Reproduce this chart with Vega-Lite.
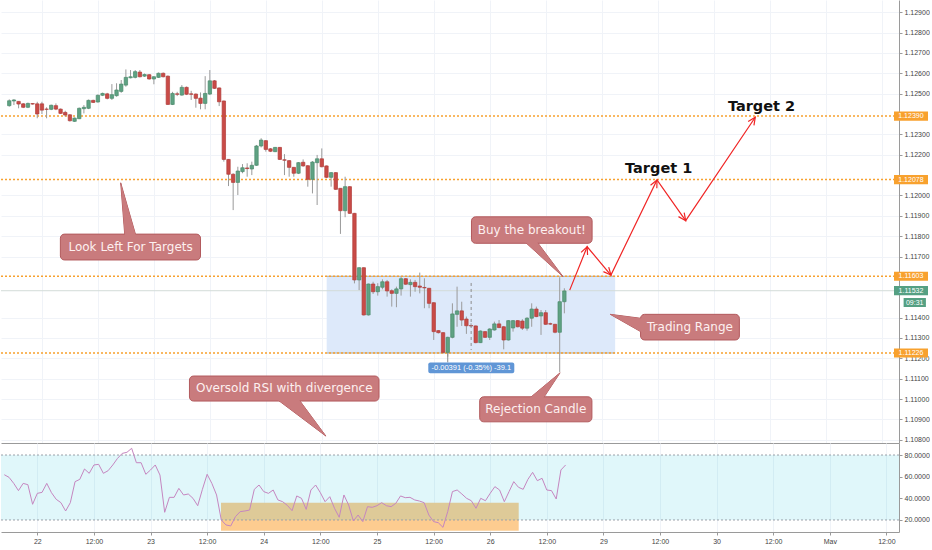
{
  "$schema": "https://vega.github.io/schema/vega-lite/v6.json",
  "padding": 0,
  "background": "#ffffff",
  "spacing": 0,
  "bounds": "flush",
  "config": {
    "view": {"stroke": null},
    "axis": {
      "labelFont": "Liberation Sans",
      "labelFontSize": 7,
      "labelColor": "#444444",
      "gridColor": "#f0f3f8",
      "domainColor": "#9a9a9a",
      "tickColor": "#9a9a9a",
      "tickSize": 3,
      "labelPadding": 2
    }
  },
  "datasets": {
    "candles": [
      {"t": -7, "o": 1.12441, "h": 1.12472, "l": 1.12436, "c": 1.12465, "rsi": 61.8},
      {"t": -6, "o": 1.12464, "h": 1.12473, "l": 1.12444, "c": 1.12469, "rsi": 59.4},
      {"t": -5, "o": 1.12462, "h": 1.12463, "l": 1.12428, "c": 1.12449, "rsi": 53.8},
      {"t": -4, "o": 1.1245, "h": 1.12454, "l": 1.12429, "c": 1.12433, "rsi": 47.1},
      {"t": -3, "o": 1.12433, "h": 1.12456, "l": 1.12429, "c": 1.12452, "rsi": 53.8},
      {"t": -2, "o": 1.12451, "h": 1.12454, "l": 1.12446, "c": 1.12449, "rsi": 52.6},
      {"t": -1, "o": 1.1245, "h": 1.1246, "l": 1.12379, "c": 1.124, "rsi": 34.5},
      {"t": 0, "o": 1.1245, "h": 1.1246, "l": 1.124, "c": 1.12419, "rsi": 44.6},
      {"t": 1, "o": 1.12424, "h": 1.12433, "l": 1.12379, "c": 1.12423, "rsi": 45.5},
      {"t": 2, "o": 1.12423, "h": 1.12446, "l": 1.12419, "c": 1.12443, "rsi": 53.8},
      {"t": 3, "o": 1.12441, "h": 1.12452, "l": 1.12419, "c": 1.12424, "rsi": 45.2},
      {"t": 4, "o": 1.12424, "h": 1.12427, "l": 1.124, "c": 1.12403, "rsi": 39.1},
      {"t": 5, "o": 1.12408, "h": 1.12416, "l": 1.12387, "c": 1.12395, "rsi": 36},
      {"t": 6, "o": 1.12396, "h": 1.124, "l": 1.12363, "c": 1.12367, "rsi": 28.3},
      {"t": 7, "o": 1.12364, "h": 1.12383, "l": 1.12361, "c": 1.1238, "rsi": 36},
      {"t": 8, "o": 1.12377, "h": 1.12432, "l": 1.12375, "c": 1.12428, "rsi": 55.4},
      {"t": 9, "o": 1.12426, "h": 1.12444, "l": 1.12403, "c": 1.12433, "rsi": 57.5},
      {"t": 10, "o": 1.12428, "h": 1.12471, "l": 1.12424, "c": 1.12467, "rsi": 67.1},
      {"t": 11, "o": 1.12467, "h": 1.1247, "l": 1.12454, "c": 1.12457, "rsi": 63.1},
      {"t": 12, "o": 1.12459, "h": 1.12496, "l": 1.12456, "c": 1.12492, "rsi": 70.8},
      {"t": 13, "o": 1.12492, "h": 1.12505, "l": 1.12488, "c": 1.12501, "rsi": 71.4},
      {"t": 14, "o": 1.12499, "h": 1.12504, "l": 1.12472, "c": 1.12477, "rsi": 63.1},
      {"t": 15, "o": 1.12477, "h": 1.12547, "l": 1.12469, "c": 1.12495, "rsi": 65.5},
      {"t": 16, "o": 1.1249, "h": 1.12551, "l": 1.12485, "c": 1.12518, "rsi": 70.8},
      {"t": 17, "o": 1.12511, "h": 1.12567, "l": 1.12504, "c": 1.12547, "rsi": 76.9},
      {"t": 18, "o": 1.12542, "h": 1.12619, "l": 1.12534, "c": 1.1258, "rsi": 81.5},
      {"t": 19, "o": 1.12578, "h": 1.12616, "l": 1.12575, "c": 1.12583, "rsi": 82.5},
      {"t": 20, "o": 1.1258, "h": 1.12616, "l": 1.12575, "c": 1.12608, "rsi": 86.2},
      {"t": 21, "o": 1.12606, "h": 1.12616, "l": 1.1258, "c": 1.12583, "rsi": 72.9},
      {"t": 22, "o": 1.12586, "h": 1.12599, "l": 1.12582, "c": 1.12594, "rsi": 72.9},
      {"t": 23, "o": 1.12593, "h": 1.12596, "l": 1.12569, "c": 1.12572, "rsi": 62.2},
      {"t": 24, "o": 1.12572, "h": 1.12586, "l": 1.12546, "c": 1.12583, "rsi": 66.2},
      {"t": 25, "o": 1.1258, "h": 1.12604, "l": 1.12577, "c": 1.126, "rsi": 70.8},
      {"t": 26, "o": 1.126, "h": 1.12604, "l": 1.1258, "c": 1.12583, "rsi": 61.5},
      {"t": 27, "o": 1.12586, "h": 1.12589, "l": 1.12445, "c": 1.12447, "rsi": 27.1},
      {"t": 28, "o": 1.12447, "h": 1.12509, "l": 1.12444, "c": 1.12501, "rsi": 40.9},
      {"t": 29, "o": 1.12499, "h": 1.12509, "l": 1.12488, "c": 1.12497, "rsi": 40.9},
      {"t": 30, "o": 1.12493, "h": 1.12542, "l": 1.1249, "c": 1.12531, "rsi": 49.2},
      {"t": 31, "o": 1.12531, "h": 1.12535, "l": 1.12493, "c": 1.12497, "rsi": 43.1},
      {"t": 32, "o": 1.12499, "h": 1.12514, "l": 1.12469, "c": 1.12497, "rsi": 44},
      {"t": 33, "o": 1.12498, "h": 1.12501, "l": 1.12431, "c": 1.12477, "rsi": 40},
      {"t": 34, "o": 1.12478, "h": 1.12506, "l": 1.12423, "c": 1.12452, "rsi": 33.2},
      {"t": 35, "o": 1.12452, "h": 1.12586, "l": 1.12423, "c": 1.12501, "rsi": 48.3},
      {"t": 36, "o": 1.12498, "h": 1.12616, "l": 1.12493, "c": 1.12563, "rsi": 62.2},
      {"t": 37, "o": 1.12563, "h": 1.12567, "l": 1.12523, "c": 1.12526, "rsi": 53.8},
      {"t": 38, "o": 1.12528, "h": 1.1253, "l": 1.12439, "c": 1.1246, "rsi": 43.1},
      {"t": 39, "o": 1.12464, "h": 1.12466, "l": 1.12166, "c": 1.12177, "rsi": 20},
      {"t": 40, "o": 1.12177, "h": 1.12179, "l": 1.12046, "c": 1.12104, "rsi": 15.4},
      {"t": 41, "o": 1.12104, "h": 1.12109, "l": 1.11928, "c": 1.12064, "rsi": 14.5},
      {"t": 42, "o": 1.12064, "h": 1.12141, "l": 1.12002, "c": 1.1212, "rsi": 23.1},
      {"t": 43, "o": 1.12117, "h": 1.12154, "l": 1.12109, "c": 1.12136, "rsi": 27.7},
      {"t": 44, "o": 1.12135, "h": 1.12158, "l": 1.12092, "c": 1.12132, "rsi": 28.3},
      {"t": 45, "o": 1.1213, "h": 1.12166, "l": 1.121, "c": 1.12148, "rsi": 29.2},
      {"t": 46, "o": 1.12148, "h": 1.12248, "l": 1.12145, "c": 1.12243, "rsi": 48.3},
      {"t": 47, "o": 1.12243, "h": 1.12281, "l": 1.12236, "c": 1.12272, "rsi": 52.3},
      {"t": 48, "o": 1.12269, "h": 1.12272, "l": 1.12215, "c": 1.12226, "rsi": 46.2},
      {"t": 49, "o": 1.12229, "h": 1.12233, "l": 1.12213, "c": 1.12217, "rsi": 44.6},
      {"t": 50, "o": 1.12215, "h": 1.12238, "l": 1.12213, "c": 1.12236, "rsi": 47.7},
      {"t": 51, "o": 1.12236, "h": 1.12238, "l": 1.12174, "c": 1.12177, "rsi": 38.5},
      {"t": 52, "o": 1.12175, "h": 1.12203, "l": 1.121, "c": 1.12173, "rsi": 36.9},
      {"t": 53, "o": 1.12171, "h": 1.12174, "l": 1.12092, "c": 1.12138, "rsi": 33.5},
      {"t": 54, "o": 1.12138, "h": 1.1214, "l": 1.12092, "c": 1.12109, "rsi": 28.6},
      {"t": 55, "o": 1.12109, "h": 1.12164, "l": 1.12105, "c": 1.12161, "rsi": 42.2},
      {"t": 56, "o": 1.12163, "h": 1.12177, "l": 1.12141, "c": 1.12145, "rsi": 40},
      {"t": 57, "o": 1.12146, "h": 1.12149, "l": 1.12043, "c": 1.12079, "rsi": 29.8},
      {"t": 58, "o": 1.12079, "h": 1.12169, "l": 1.1201, "c": 1.12164, "rsi": 47.7},
      {"t": 59, "o": 1.12161, "h": 1.12199, "l": 1.11953, "c": 1.1218, "rsi": 52.3},
      {"t": 60, "o": 1.1218, "h": 1.12231, "l": 1.12138, "c": 1.12141, "rsi": 45.2},
      {"t": 61, "o": 1.12145, "h": 1.12147, "l": 1.12085, "c": 1.12089, "rsi": 36.9},
      {"t": 62, "o": 1.12089, "h": 1.12115, "l": 1.12043, "c": 1.12112, "rsi": 41.5},
      {"t": 63, "o": 1.12112, "h": 1.12115, "l": 1.12027, "c": 1.1203, "rsi": 30.8},
      {"t": 64, "o": 1.12035, "h": 1.12036, "l": 1.11811, "c": 1.11925, "rsi": 22.5},
      {"t": 65, "o": 1.11925, "h": 1.12092, "l": 1.11893, "c": 1.12043, "rsi": 43.1},
      {"t": 66, "o": 1.12043, "h": 1.12046, "l": 1.11909, "c": 1.11912, "rsi": 33.8},
      {"t": 67, "o": 1.11912, "h": 1.11914, "l": 1.11568, "c": 1.11585, "rsi": 19.1},
      {"t": 68, "o": 1.11585, "h": 1.11647, "l": 1.11535, "c": 1.11645, "rsi": 24.6},
      {"t": 69, "o": 1.11645, "h": 1.11647, "l": 1.1141, "c": 1.11413, "rsi": 18.5},
      {"t": 70, "o": 1.11413, "h": 1.11567, "l": 1.1141, "c": 1.11565, "rsi": 32.3},
      {"t": 71, "o": 1.11565, "h": 1.11576, "l": 1.11516, "c": 1.11527, "rsi": 31.7},
      {"t": 72, "o": 1.11527, "h": 1.11569, "l": 1.11508, "c": 1.11552, "rsi": 33.2},
      {"t": 73, "o": 1.11549, "h": 1.11588, "l": 1.11539, "c": 1.11576, "rsi": 36},
      {"t": 74, "o": 1.11576, "h": 1.11585, "l": 1.11503, "c": 1.11531, "rsi": 33.2},
      {"t": 75, "o": 1.11532, "h": 1.11539, "l": 1.11454, "c": 1.11519, "rsi": 32.3},
      {"t": 76, "o": 1.11519, "h": 1.11552, "l": 1.11451, "c": 1.11541, "rsi": 35.4},
      {"t": 77, "o": 1.11541, "h": 1.11601, "l": 1.11508, "c": 1.11591, "rsi": 42.2},
      {"t": 78, "o": 1.11591, "h": 1.11594, "l": 1.1156, "c": 1.11564, "rsi": 40.6},
      {"t": 79, "o": 1.11562, "h": 1.11588, "l": 1.11503, "c": 1.11573, "rsi": 40.9},
      {"t": 80, "o": 1.11573, "h": 1.11585, "l": 1.11527, "c": 1.11552, "rsi": 38.5},
      {"t": 81, "o": 1.11555, "h": 1.11621, "l": 1.11519, "c": 1.11549, "rsi": 37.5},
      {"t": 82, "o": 1.11548, "h": 1.11593, "l": 1.11446, "c": 1.11546, "rsi": 36},
      {"t": 83, "o": 1.11544, "h": 1.11545, "l": 1.11446, "c": 1.1147, "rsi": 24.6},
      {"t": 84, "o": 1.11473, "h": 1.11476, "l": 1.1129, "c": 1.11331, "rsi": 18.5},
      {"t": 85, "o": 1.11336, "h": 1.11339, "l": 1.11322, "c": 1.11326, "rsi": 17.5},
      {"t": 86, "o": 1.11326, "h": 1.11329, "l": 1.11224, "c": 1.11229, "rsi": 13.2},
      {"t": 87, "o": 1.11229, "h": 1.11306, "l": 1.11208, "c": 1.11303, "rsi": 27.7},
      {"t": 88, "o": 1.11303, "h": 1.1147, "l": 1.11298, "c": 1.11418, "rsi": 46.2},
      {"t": 89, "o": 1.11416, "h": 1.11552, "l": 1.11355, "c": 1.11433, "rsi": 47.7},
      {"t": 90, "o": 1.11433, "h": 1.11478, "l": 1.11359, "c": 1.11388, "rsi": 44},
      {"t": 91, "o": 1.11393, "h": 1.11405, "l": 1.1132, "c": 1.1136, "rsi": 40},
      {"t": 92, "o": 1.11361, "h": 1.11372, "l": 1.11355, "c": 1.11359, "rsi": 37.8},
      {"t": 93, "o": 1.11359, "h": 1.11361, "l": 1.11274, "c": 1.11277, "rsi": 30.8},
      {"t": 94, "o": 1.11277, "h": 1.11337, "l": 1.11275, "c": 1.11334, "rsi": 40},
      {"t": 95, "o": 1.11331, "h": 1.11334, "l": 1.113, "c": 1.11303, "rsi": 37.8},
      {"t": 96, "o": 1.11303, "h": 1.11348, "l": 1.1129, "c": 1.11344, "rsi": 44.6},
      {"t": 97, "o": 1.11339, "h": 1.1138, "l": 1.11336, "c": 1.11369, "rsi": 50.8},
      {"t": 98, "o": 1.11369, "h": 1.11388, "l": 1.11348, "c": 1.11351, "rsi": 47.7},
      {"t": 99, "o": 1.11355, "h": 1.11359, "l": 1.11244, "c": 1.1129, "rsi": 36.9},
      {"t": 100, "o": 1.1129, "h": 1.11388, "l": 1.11287, "c": 1.11385, "rsi": 46.2},
      {"t": 101, "o": 1.11349, "h": 1.11388, "l": 1.11331, "c": 1.11385, "rsi": 55.4},
      {"t": 102, "o": 1.11385, "h": 1.11388, "l": 1.11352, "c": 1.11355, "rsi": 50.2},
      {"t": 103, "o": 1.11383, "h": 1.11392, "l": 1.11339, "c": 1.11348, "rsi": 48.3},
      {"t": 104, "o": 1.11348, "h": 1.11402, "l": 1.11336, "c": 1.11397, "rsi": 57.5},
      {"t": 105, "o": 1.11397, "h": 1.1147, "l": 1.11355, "c": 1.11442, "rsi": 64},
      {"t": 106, "o": 1.11442, "h": 1.11454, "l": 1.11402, "c": 1.11405, "rsi": 56.3},
      {"t": 107, "o": 1.11408, "h": 1.11437, "l": 1.11315, "c": 1.11424, "rsi": 58.5},
      {"t": 108, "o": 1.11424, "h": 1.11437, "l": 1.11364, "c": 1.11367, "rsi": 47.7},
      {"t": 109, "o": 1.1137, "h": 1.11375, "l": 1.11364, "c": 1.11368, "rsi": 47.1},
      {"t": 110, "o": 1.11367, "h": 1.11369, "l": 1.11323, "c": 1.11328, "rsi": 39.4},
      {"t": 111, "o": 1.11328, "h": 1.11598, "l": 1.11133, "c": 1.11478, "rsi": 66.2},
      {"t": 112, "o": 1.11478, "h": 1.11544, "l": 1.11421, "c": 1.11531, "rsi": 70.8}
    ],
    "levels": [
      {"p": 1.1239, "label": "1.12390"},
      {"p": 1.12078, "label": "1.12078"},
      {"p": 1.11603, "label": "1.11603"},
      {"p": 1.11226, "label": "1.11226"}
    ],
    "tags": [
      {"p": 1.1239, "label": "1.12390", "kind": "level"},
      {"p": 1.12078, "label": "1.12078", "kind": "level"},
      {"p": 1.11603, "label": "1.11603", "kind": "level"},
      {"p": 1.11226, "label": "1.11226", "kind": "level"},
      {"p": 1.11532, "label": "1.11532", "kind": "price"}
    ],
    "range": [
      {"t1": 61.05, "t2": 122.89, "p1": 1.11226, "p2": 1.11603}
    ],
    "rangeEdges": [
      {"t1": 61.05, "t2": 122.89, "p": 1.11603},
      {"t1": 61.05, "t2": 122.89, "p": 1.11226}
    ],
    "arrow": [
      {"i": 0, "t": 113.15, "p": 1.11535},
      {"i": 1, "t": 116.89, "p": 1.11748},
      {"i": 2, "t": 121.98, "p": 1.11609},
      {"i": 3, "t": 131.86, "p": 1.12076},
      {"i": 4, "t": 138.01, "p": 1.11876},
      {"i": 5, "t": 152.93, "p": 1.12384}
    ],
    "callouts": [
      {"id": "left", "label": "Look Left For Targets", "t1": 3.96, "t2": 34.0, "p1": 1.11683, "p2": 1.1181, "tx": 19.01, "py": 1.11747, "tipT": 16.89, "tipP": 1.12062},
      {"id": "buy", "label": "Buy the breakout!", "t1": 92.09, "t2": 117.95, "p1": 1.11765, "p2": 1.11895, "tx": 105.02, "py": 1.1183, "tipT": 111.72, "tipP": 1.11601},
      {"id": "range", "label": "Trading Range", "t1": 128.34, "t2": 149.52, "p1": 1.1129, "p2": 1.11416, "tx": 138.93, "py": 1.11353, "tipT": 121.84, "tipP": 1.11416},
      {"id": "rsi", "label": "Oversold RSI with divergence", "t1": 31.63, "t2": 72.27, "p1": 1.1099, "p2": 1.11113, "tx": 51.95, "py": 1.11052, "tipT": 60.88, "tipP": 1.10818},
      {"id": "reject", "label": "Rejection Candle", "t1": 93.85, "t2": 117.91, "p1": 1.10888, "p2": 1.11011, "tx": 105.88, "py": 1.1095, "tipT": 111.09, "tipP": 1.11129}
    ],
    "targets": [
      {"t": 132.22, "p": 1.1213, "label": "Target 1"},
      {"t": 154.27, "p": 1.12434, "label": "Target 2"}
    ]
  },
  "vconcat": [
    {
      "width": 898,
      "height": 443,
      "layer": [
        {
          "data": {"name": "range"},
          "mark": {"type": "rect", "color": "#dde9fa"},
          "encoding": {
            "x": {
              "field": "t1", "type": "quantitative", "title": null,
              "scale": {"domain": [-7.7, 182.67], "nice": false, "zero": false},
              "axis": {"orient": "bottom", "title": null, "values": [0, 12, 24, 36, 48, 60, 72, 84, 96, 108, 120, 132, 144, 156, 168, 180], "tickCount": 100, "labels": false, "ticks": false, "grid": true, "domain": true}
            },
            "x2": {"field": "t2"},
            "y": {
              "field": "p1", "type": "quantitative", "title": null,
              "scale": {"domain": [1.10784, 1.1296], "nice": false, "zero": false},
              "axis": {"orient": "right", "title": null, "values": [1.108, 1.109, 1.11, 1.111, 1.112, 1.113, 1.114, 1.117, 1.118, 1.119, 1.12, 1.122, 1.123, 1.125, 1.126, 1.127, 1.128, 1.129], "tickCount": 100, "format": ".5f", "grid": true, "domain": true, "labelOverlap": false, "zindex": 0}
            },
            "y2": {"field": "p2"}
          }
        },
        {
          "data": {"name": "rangeEdges"},
          "mark": {"type": "rule", "color": "#a8a8a8", "strokeWidth": 1},
          "encoding": {
            "x": {"field": "t1", "type": "quantitative"},
            "x2": {"field": "t2"},
            "y": {"field": "p", "type": "quantitative"}
          }
        },
        {
          "data": {"name": "levels"},
          "mark": {"type": "rule", "color": "#f8a12e", "strokeWidth": 1.5, "strokeDash": [2, 2]},
          "encoding": {"y": {"field": "p", "type": "quantitative"}}
        },
        {
          "data": {"values": [{"p": 1.11532}]},
          "mark": {"type": "rule", "color": "#d3dcd8", "strokeWidth": 1},
          "encoding": {"y": {"field": "p", "type": "quantitative"}}
        },
        {
          "data": {"name": "candles"},
          "mark": {"type": "rule", "color": "#9a9a9a", "strokeWidth": 1},
          "encoding": {
            "x": {"field": "t", "type": "quantitative"},
            "y": {"field": "l", "type": "quantitative"},
            "y2": {"field": "h"}
          }
        },
        {
          "data": {"name": "candles"},
          "mark": {"type": "bar", "orient": "vertical", "size": 3.4, "strokeWidth": 0.7},
          "encoding": {
            "x": {"field": "t", "type": "quantitative"},
            "y": {"field": "o", "type": "quantitative"},
            "y2": {"field": "c"},
            "fill": {"condition": {"test": "datum.c >= datum.o", "value": "#5fa283"}, "value": "#c94b47"},
            "stroke": {"condition": {"test": "datum.c >= datum.o", "value": "#4a8a6c"}, "value": "#b03c39"}
          }
        },
        {
          "data": {"values": [{"t": 92.02, "p1": 1.1157, "p2": 1.11241}]},
          "mark": {"type": "rule", "color": "#8c8c8c", "strokeWidth": 1, "strokeDash": [3, 3]},
          "encoding": {
            "x": {"field": "t", "type": "quantitative"},
            "y": {"field": "p1", "type": "quantitative"},
            "y2": {"field": "p2"}
          }
        },
        {
          "data": {"values": [{"t": 87.0, "p1": 1.11226, "p2": 1.1118}]},
          "mark": {"type": "rule", "color": "#8c8c8c", "strokeWidth": 1},
          "encoding": {
            "x": {"field": "t", "type": "quantitative"},
            "y": {"field": "p1", "type": "quantitative"},
            "y2": {"field": "p2"}
          }
        },
        {
          "data": {"values": [{"t1": 82.83, "t2": 101.27, "p1": 1.11126, "p2": 1.1118, "tx": 92.05, "py": 1.11153, "label": "-0.00391 (-0.35%) -39.1"}]},
          "layer": [
            {
              "mark": {"type": "rect", "fill": "#6096d6", "cornerRadius": 2},
              "encoding": {
                "x": {"field": "t1", "type": "quantitative"},
                "x2": {"field": "t2"},
                "y": {"field": "p1", "type": "quantitative"},
                "y2": {"field": "p2"}
              }
            },
            {
              "mark": {"type": "text", "font": "Liberation Sans", "fontSize": 7.5, "color": "#ffffff", "align": "center", "baseline": "middle"},
              "encoding": {
                "x": {"field": "tx", "type": "quantitative"},
                "y": {"field": "py", "type": "quantitative"},
                "text": {"field": "label"}
              }
            }
          ]
        },
        {
          "data": {"name": "arrow"},
          "mark": {"type": "line", "color": "#f02525", "strokeWidth": 1.2},
          "encoding": {
            "x": {"field": "t", "type": "quantitative"},
            "y": {"field": "p", "type": "quantitative"},
            "order": {"field": "i"}
          }
        },
        {
          "data": {"name": "arrow"},
          "transform": [{"filter": "datum.i > 0"}],
          "mark": {"type": "point", "size": 4, "filled": false, "opacity": 1, "stroke": "#f02525", "strokeWidth": 1.2, "shape": "M -3.5 7.5 L 0 0 L 3.5 7.5"},
          "encoding": {
            "x": {"field": "t", "type": "quantitative"},
            "y": {"field": "p", "type": "quantitative"},
            "angle": {"field": "i", "type": "nominal", "scale": {"type": "ordinal", "domain": [1, 2, 3, 4, 5], "range": [22.2, 139.7, 26.1, 144.5, 34.2]}, "legend": null}
          }
        },
        {
          "data": {"name": "callouts"},
          "mark": {"type": "point", "size": 4, "filled": true, "opacity": 1, "fill": "#c97b7d", "stroke": "#b25a5d", "strokeWidth": 1},
          "encoding": {
            "x": {"field": "tipT", "type": "quantitative"},
            "y": {"field": "tipP", "type": "quantitative"},
            "shape": {
              "field": "id", "type": "nominal", "legend": null,
              "scale": {
                "domain": ["left", "buy", "range", "rsi", "reject"],
                "range": ["M 0 0 L 4.2 54 L 15.5 54 Z", "M 0 0 L -39.4 -36 L -26.9 -36 Z", "M 0 0 L 34 4.4 L 34 19.3 Z", "M 0 0 L -50.5 -38 L -28.1 -38 Z", "M 0 0 L -32.4 27 L -17.9 27 Z"]
              }
            }
          }
        },
        {
          "data": {"name": "callouts"},
          "mark": {"type": "rect", "fill": "#c97b7d", "stroke": "#b25a5d", "strokeWidth": 1, "cornerRadius": 4},
          "encoding": {
            "x": {"field": "t1", "type": "quantitative"},
            "x2": {"field": "t2"},
            "y": {"field": "p1", "type": "quantitative"},
            "y2": {"field": "p2"}
          }
        },
        {
          "data": {"name": "callouts"},
          "mark": {"type": "point", "size": 4, "filled": true, "opacity": 1, "fill": "#c97b7d", "strokeWidth": 0},
          "encoding": {
            "x": {"field": "tipT", "type": "quantitative"},
            "y": {"field": "tipP", "type": "quantitative"},
            "shape": {"field": "id", "type": "nominal", "legend": null}
          }
        },
        {
          "data": {"name": "callouts"},
          "mark": {"type": "text", "font": "DejaVu Sans", "fontSize": 12, "color": "#fdf0f0", "align": "center", "baseline": "middle"},
          "encoding": {
            "x": {"field": "tx", "type": "quantitative"},
            "y": {"field": "py", "type": "quantitative"},
            "text": {"field": "label"}
          }
        },
        {
          "data": {"name": "targets"},
          "mark": {"type": "text", "font": "DejaVu Sans", "fontSize": 14.5, "fontWeight": "bold", "color": "#111111", "align": "center", "baseline": "middle"},
          "encoding": {
            "x": {"field": "t", "type": "quantitative"},
            "y": {"field": "p", "type": "quantitative"},
            "text": {"field": "label"}
          }
        },
        {
          "data": {"name": "tags"},
          "mark": {"type": "point", "size": 4, "filled": true, "opacity": 1, "strokeWidth": 0, "shape": "M 0 -4.6 L 34 -4.6 L 34 4.6 L 0 4.6 Z"},
          "encoding": {
            "x": {"datum": 182.67, "type": "quantitative"},
            "y": {"field": "p", "type": "quantitative"},
            "fill": {"condition": {"test": "datum.kind == 'price'", "value": "#55a083"}, "value": "#f8a12e"}
          }
        },
        {
          "data": {"name": "tags"},
          "mark": {"type": "text", "font": "Liberation Sans", "fontSize": 7, "color": "#ffffff", "align": "center", "baseline": "middle"},
          "encoding": {
            "x": {"datum": 186.3, "type": "quantitative"},
            "y": {"field": "p", "type": "quantitative"},
            "text": {"field": "label"}
          }
        },
        {
          "data": {"values": [{"p": 1.11474, "label": "09:31"}]},
          "layer": [
            {
              "mark": {"type": "point", "size": 4, "filled": true, "opacity": 1, "strokeWidth": 0, "fill": "#55a083", "shape": "M 0 -4.5 L 22.3 -4.5 L 22.3 4.5 L 0 4.5 Z"},
              "encoding": {
                "x": {"datum": 184.73, "type": "quantitative"},
                "y": {"field": "p", "type": "quantitative"}
              }
            },
            {
              "mark": {"type": "text", "font": "Liberation Sans", "fontSize": 7, "color": "#ffffff", "align": "center", "baseline": "middle"},
              "encoding": {
                "x": {"datum": 187.1, "type": "quantitative"},
                "y": {"field": "p", "type": "quantitative"},
                "text": {"field": "label"}
              }
            }
          ]
        }
      ]
    },
    {
      "width": 898,
      "height": 89,
      "layer": [
        {
          "data": {"values": [{"t1": 38.94, "t2": 102.05, "r1": 10.1, "r2": 36}]},
          "mark": {"type": "rect", "fill": "#fdcc90"},
          "encoding": {
            "x": {
              "field": "t1", "type": "quantitative", "title": null,
              "scale": {"domain": [-7.7, 182.67], "nice": false, "zero": false},
              "axis": {
                "orient": "bottom", "title": null,
                "values": [0, 12, 24, 36, 48, 60, 72, 84, 96, 108, 120, 132, 144, 156, 168, 180],
                "tickCount": 100,
                "labelExpr": "datum.value % 24 == 0 ? ['22','23','24','25','26','29','30','May'][datum.value / 24] : '12:00'",
                "grid": true, "ticks": true, "domain": true, "labelFlush": false, "labelOverlap": false
              }
            },
            "x2": {"field": "t2"},
            "y": {
              "field": "r1", "type": "quantitative", "title": null,
              "scale": {"domain": [8.9, 91.1], "nice": false, "zero": false},
              "axis": {"orient": "right", "title": null, "values": [20, 40, 60, 80], "tickCount": 100, "format": ".4f", "grid": false, "domain": true, "labelOverlap": false}
            },
            "y2": {"field": "r2"}
          }
        },
        {
          "data": {"values": [{"r1": 20, "r2": 80}]},
          "mark": {"type": "rect", "fill": "#00bcd4", "opacity": 0.12},
          "encoding": {
            "x": {"datum": -7.7, "type": "quantitative"},
            "x2": {"datum": 182.67},
            "y": {"field": "r1", "type": "quantitative"},
            "y2": {"field": "r2"}
          }
        },
        {
          "data": {"values": [{"r": 20}, {"r": 80}]},
          "mark": {"type": "rule", "color": "#9aa0a8", "strokeWidth": 1, "strokeDash": [2, 2]},
          "encoding": {"y": {"field": "r", "type": "quantitative"}}
        },
        {
          "data": {"name": "candles"},
          "mark": {"type": "line", "color": "#c586c0", "strokeWidth": 1},
          "encoding": {
            "x": {"field": "t", "type": "quantitative"},
            "y": {"field": "rsi", "type": "quantitative"}
          }
        }
      ]
    }
  ]
}
